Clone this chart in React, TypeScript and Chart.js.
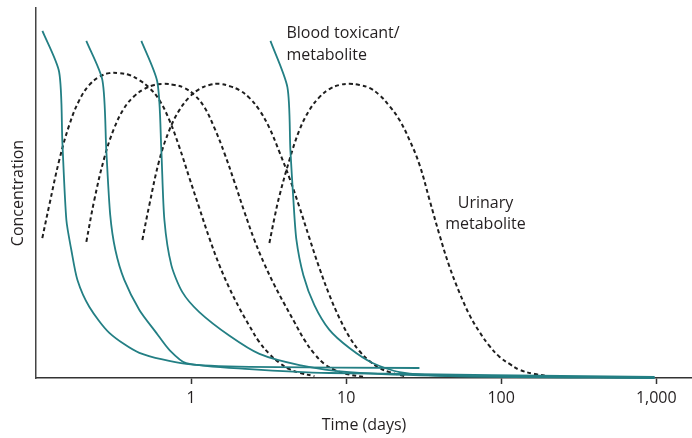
import React, { useEffect, useRef } from "react";
import { Chart, registerables } from "chart.js";

Chart.register(...registerables);

const xTickValues = [1, 10, 100, 1000];
const xTickLabels = ["1", "10", "100", "1,000"];

// Blood toxicant / metabolite curves (time in days, relative concentration)
const blood1Days = [0.11, 0.141, 0.148, 0.157, 0.169, 0.185, 0.221, 0.297, 0.464, 0.93, 2.38, 29.7];
const blood1Conc = [93.8, 82.7, 63.5, 42.7, 34.6, 26.5, 19.2, 12.2, 6.8, 3.8, 3.0, 2.7];

const blood2Days = [0.211, 0.268, 0.284, 0.301, 0.325, 0.371, 0.464, 0.597, 0.7245, 0.93, 2.38, 7.8, 975];
const blood2Conc = [91.1, 80.5, 61.6, 44.1, 34.6, 26.5, 18.4, 12.2, 7.6, 4.0, 2.4, 1.35, 0.27];

const blood3Days = [0.478, 0.606, 0.643, 0.673, 0.746, 0.879, 1.13, 1.77, 2.76, 5.0, 10.5, 46.4, 975];
const blood3Conc = [91.1, 80.0, 61.6, 42.7, 30.5, 23.2, 17.8, 11.4, 6.5, 3.5, 1.6, 0.54, 0.14];

const blood4Days = [3.25, 4.18, 4.37, 4.57, 4.78, 5.3, 6.24, 7.8, 10.5, 14.8, 22.1, 46.4, 975];
const blood4Conc = [91.1, 78.6, 61.6, 48.1, 37.3, 27.8, 19.7, 13.0, 8.1, 4.05, 1.6, 0.54, 0];

// Urinary metabolite curves
const urine1Days = [0.1098, 0.1219, 0.1413, 0.164, 0.1903, 0.2208, 0.2561, 0.2971, 0.3447, 0.3999, 0.464, 0.5383, 0.6245, 0.7245, 0.8404, 0.975, 1.131, 1.312, 1.522, 1.766, 2.049, 2.377, 2.758, 3.2, 3.712, 4.307, 4.996, 6.246];
const urine1Conc = [37.8, 46.8, 58.9, 68.4, 75.1, 79.2, 81.4, 82.4, 82.4, 81.9, 80.5, 78.4, 75.1, 69.7, 62.4, 54.1, 45.9, 37.8, 30.5, 24.3, 18.9, 14.1, 9.7, 6.5, 4.1, 2.4, 1.4, 0.5];

const urine2Days = [0.2112, 0.2377, 0.2758, 0.3199, 0.3712, 0.4307, 0.4996, 0.5797, 0.6725, 0.7805, 0.9053, 1.05, 1.218, 1.414, 1.64, 1.903, 2.208, 2.561, 2.971, 3.447, 3.999, 4.64, 5.383, 6.246, 7.245, 8.404, 10.04, 13.13];
const urine2Conc = [36.8, 48.1, 59.5, 67.6, 73.0, 76.2, 78.1, 79.2, 79.5, 79.2, 78.4, 76.5, 73.2, 67.6, 60.8, 53.0, 44.9, 37.3, 30.8, 25.1, 20.0, 15.1, 10.3, 6.5, 3.8, 2.2, 1.1, 0.27];

const urine3Days = [0.4851, 0.5383, 0.6245, 0.7245, 0.8404, 0.975, 1.131, 1.312, 1.522, 1.766, 2.049, 2.377, 2.758, 3.2, 3.712, 4.307, 4.996, 5.797, 6.725, 7.805, 9.053, 10.5, 12.18, 14.14, 16.4, 19.03, 23.77];
const urine3Conc = [37.3, 46.8, 58.9, 67.0, 72.4, 75.9, 78.1, 79.2, 79.5, 78.9, 77.8, 75.7, 72.4, 67.6, 61.1, 54.1, 46.2, 37.8, 29.7, 22.4, 16.2, 11.1, 7.3, 4.6, 2.7, 1.6, 0.5];

const urine4Days = [3.2, 3.447, 3.712, 4.307, 4.996, 5.797, 6.725, 7.805, 9.053, 10.5, 12.18, 14.14, 16.4, 19.03, 22.1, 25.64, 29.75, 34.52, 40.05, 46.47, 53.91, 62.55, 72.56, 84.2, 97.66, 113.3, 131.5, 164.2, 221.1];
const urine4Conc = [36.5, 43.2, 49.2, 58.9, 67.0, 72.4, 75.9, 78.1, 79.2, 79.5, 79.2, 78.4, 76.5, 73.5, 69.7, 64.3, 57.6, 48.1, 38.6, 30.0, 23.0, 17.0, 12.4, 8.6, 5.7, 3.8, 2.2, 1.1, 0.27];

const bloodLabel = ["Blood toxicant/", "metabolite"];
const urineLabel = ["Urinary", "metabolite"];

const TEAL = "#237f84";
const DASH = "#1e1e1e";
const TEXT = "#231f20";
const FONT = '"Open Sans", "DejaVu Sans", sans-serif';

function pts(xs: number[], ys: number[]) {
  return xs.map((x, i) => ({ x, y: ys[i] }));
}

function blood(xs: number[], ys: number[]) {
  return {
    data: pts(xs, ys),
    borderColor: TEAL,
    borderWidth: 1.8,
    pointRadius: 0,
    tension: 0.25,
    clip: 4,
  };
}

function urine(xs: number[], ys: number[]) {
  return {
    data: pts(xs, ys),
    borderColor: DASH,
    borderWidth: 2,
    borderDash: [4, 3],
    pointRadius: 0,
    tension: 0.4,
    clip: 4,
  };
}

const labelPlugin = {
  id: "curveLabels",
  afterDraw(chart: any) {
    const { ctx, scales } = chart;
    const xs = scales.x;
    const ys = scales.y;
    ctx.save();
    ctx.fillStyle = TEXT;
    ctx.font = `16px ${FONT}`;
    ctx.textBaseline = "middle";
    ctx.textAlign = "left";
    const bx = xs.getPixelForValue(4.12);
    ctx.fillText(bloodLabel[0], bx, ys.getPixelForValue(93.2));
    ctx.fillText(bloodLabel[1], bx, ys.getPixelForValue(87.3));
    ctx.textAlign = "center";
    const ux = xs.getPixelForValue(79.2);
    ctx.fillText(urineLabel[0], ux, ys.getPixelForValue(47.3));
    ctx.fillText(urineLabel[1], ux, ys.getPixelForValue(41.4));
    ctx.restore();
  },
};

export default function App() {
  const ref = useRef<HTMLCanvasElement | null>(null);

  useEffect(() => {
    document.body.style.margin = "0";
    const canvas = ref.current;
    if (!canvas) return;
    const chart = new Chart(canvas, {
      type: "line",
      data: {
        datasets: [
          blood(blood1Days, blood1Conc),
          blood(blood2Days, blood2Conc),
          blood(blood3Days, blood3Conc),
          blood(blood4Days, blood4Conc),
          urine(urine1Days, urine1Conc),
          urine(urine2Days, urine2Conc),
          urine(urine3Days, urine3Conc),
          urine(urine4Days, urine4Conc),
        ] as any,
      },
      options: {
        animation: false,
        responsive: false,
        events: [],
        layout: { padding: { top: 8, right: 0, left: 0, bottom: 0 } },
        plugins: {
          legend: { display: false },
          tooltip: { enabled: false },
        },
        scales: {
          x: {
            type: "logarithmic",
            min: 0.1,
            max: 1700,
            afterBuildTicks: (scale: any) => {
              scale.ticks = xTickValues.map((v) => ({ value: v }));
            },
            afterFit: (scale: any) => {
              scale.height = 60;
            },
            ticks: {
              autoSkip: false,
              maxRotation: 0,
              padding: 5,
              color: TEXT,
              font: { family: FONT, size: 16 },
              callback: (v: any) => {
                const i = xTickValues.indexOf(Number(v));
                return i >= 0 ? xTickLabels[i] : "";
              },
            },
            grid: {
              display: true,
              drawOnChartArea: false,
              drawTicks: true,
              tickLength: 6,
              tickWidth: 1.5,
              color: "#333",
            },
            border: { display: true, color: "#333", width: 1.5 },
            title: {
              display: true,
              text: "Time (days)",
              color: TEXT,
              font: { family: FONT, size: 16 },
              padding: { top: 0, bottom: 3 },
            },
          },
          y: {
            type: "linear",
            min: 0,
            max: 100,
            afterFit: (scale: any) => {
              scale.width = 36;
            },
            ticks: { display: false },
            grid: { display: false, drawTicks: false },
            border: { display: true, color: "#444", width: 1.5 },
            title: {
              display: true,
              text: "Concentration",
              color: TEXT,
              font: { family: FONT, size: 16 },
              padding: { top: 9, bottom: 0 },
            },
          },
        },
      },
      plugins: [labelPlugin],
    });
    return () => chart.destroy();
  }, []);

  return (
    <div style={{ width: 692, height: 438 }}>
      <canvas ref={ref} width={692} height={438} style={{ display: "block", width: 692, height: 438 }} />
    </div>
  );
}
